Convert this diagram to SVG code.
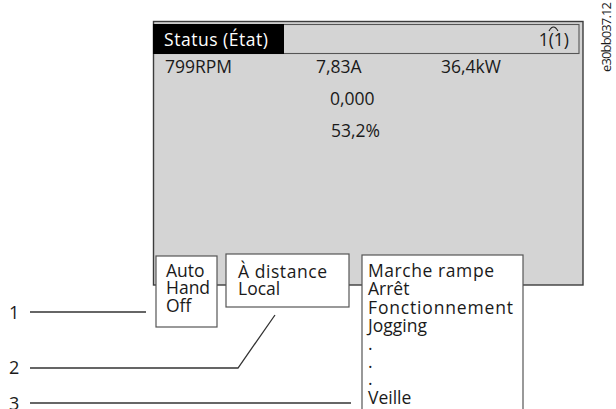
<svg xmlns="http://www.w3.org/2000/svg" width="616" height="409" viewBox="0 0 616 409">
<style>
text{font-family:"Open Sans","Noto Sans","Liberation Sans",sans-serif;font-size:17.5px;fill:#1a1a1a}
.box{fill:#ffffff;stroke:#555555;stroke-width:1.2}
.conn{fill:none;stroke:#333333;stroke-width:1.3}
.lbl{font-size:18px}
</style>
<rect width="616" height="409" fill="#ffffff"/>
<g id="screen">
<rect x="153.5" y="21.5" width="429.5" height="263.5" fill="#d4d4d4" stroke="#3c3c3c" stroke-width="1.4"/>
<rect x="153.5" y="24.5" width="425.5" height="29" fill="none" stroke="#555555" stroke-width="1.1"/>
<rect x="153" y="24" width="131" height="30" fill="#000000"/>
<text x="164" y="46" style="fill:#ffffff" textLength="104">Status (État)</text>
<text x="569" y="46" text-anchor="end">1(1)</text>
<path d="M549,31 Q553.5,23 558,31" fill="none" stroke="#1a1a1a" stroke-width="1.1"/>
<text x="165" y="73">799RPM</text>
<text x="316" y="73">7,83A</text>
<text x="441" y="73">36,4kW</text>
<text x="330" y="105">0,000</text>
<text x="331" y="137">53,2%</text>
</g>
<g id="box-mode">
<rect class="box" x="156" y="256" width="61" height="71"/>
<text x="166" y="277">Auto</text>
<text x="166" y="294">Hand</text>
<text x="166" y="312">Off</text>
</g>
<g id="box-ref">
<rect class="box" x="226" y="254" width="123" height="53"/>
<text x="238" y="278" textLength="89">À distance</text>
<text x="238" y="295">Local</text>
</g>
<g id="box-status">
<rect class="box" x="362" y="255" width="161" height="170"/>
<text x="368" y="277" textLength="126">Marche rampe</text>
<text x="368" y="295">Arrêt</text>
<text x="368" y="314" textLength="145">Fonctionnement</text>
<text x="368" y="332">Jogging</text>
<text x="368" y="350">.</text>
<text x="368" y="368">.</text>
<text x="368" y="385">.</text>
<text x="368" y="404">Veille</text>
</g>
<g id="connectors">
<line class="conn" x1="30" y1="312" x2="146" y2="312"/>
<polyline class="conn" points="30,368 238,368 275,315"/>
<line class="conn" x1="30" y1="403" x2="351" y2="403"/>
</g>
<g id="labels">
<text class="lbl" x="9" y="319">1</text>
<text class="lbl" x="9" y="374">2</text>
<text class="lbl" x="9" y="410">3</text>
<text x="611" y="72" transform="rotate(-90 611 72)" style="font-size:13px" textLength="70">e30bb037.12</text>
</g>
</svg>
